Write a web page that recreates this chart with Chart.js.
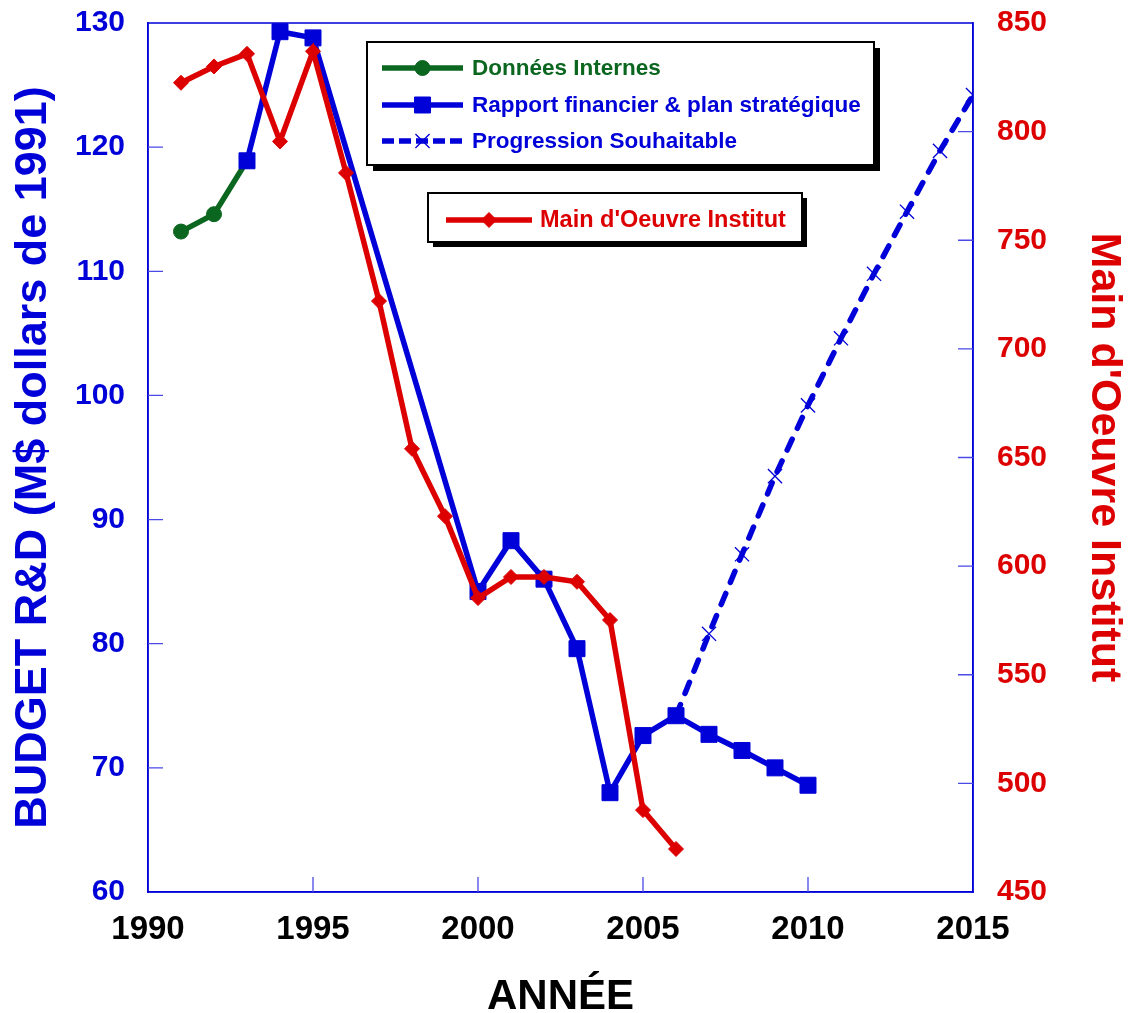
<!DOCTYPE html>
<html>
<head>
<meta charset="utf-8">
<script src="https://cdn.jsdelivr.net/npm/chart.js@4.4.1/dist/chart.umd.min.js"></script>
<style>
html, body { margin: 0; padding: 0; background: #fff; }
canvas { display: block; }
</style>
</head>
<body>
<canvas id="budgetChart" width="1130" height="1013"></canvas>
<script>
// data
var yearsInternes = [1991, 1992, 1993];
var budgetInternes = [113.2, 114.6, 118.9];

var yearsRapport = [1993, 1994, 1995, 2000, 2001, 2002, 2003, 2004, 2005, 2006, 2007, 2008, 2009, 2010];
var budgetRapport = [118.9, 129.3, 128.8, 84.2, 88.3, 85.2, 79.6, 68.0, 72.6, 74.2, 72.7, 71.4, 70.0, 68.6];

var yearsProgression = [2006, 2007, 2008, 2009, 2010, 2011, 2012, 2013, 2014, 2015];
var budgetProgression = [74.2, 80.8, 87.2, 93.5, 99.2, 104.6, 109.8, 114.8, 119.7, 124.2];

var yearsMain = [1991, 1992, 1993, 1994, 1995, 1996, 1997, 1998, 1999, 2000, 2001, 2002, 2003, 2004, 2005, 2006];
var mainOeuvre = [822.5, 830, 835.8, 795.5, 837, 781, 722, 654, 623, 585.3, 595, 595, 592.8, 575.2, 487.7, 469.8];

var BLUE = '#0000d8';
var RED = '#dd0000';
var GREEN = '#0b661f';
var FONT = '"Liberation Sans", Arial, sans-serif';

function pts(xs, ys) {
    var out = [];
    for (let i = 0; i < xs.length; i++) {
        out.push({ x: xs[i], y: ys[i] });
    }
    return out;
}

// fixed axis sizes so the plot area matches the figure
function fixWidth(w) {
    return function (s) {
        s.width = w;
        s.paddingTop = 0;
        s.paddingBottom = 0;
    };
}

Chart.defaults.font.family = FONT;

// frame + inward tick marks
var innerTicks = {
    id: 'innerTicks',
    beforeDatasetsDraw: function (chart) {
        var ctx = chart.ctx;
        var a = chart.chartArea;
        var s = chart.scales;
        ctx.save();
        ctx.strokeStyle = BLUE;
        ctx.lineWidth = 1.5;
        ctx.strokeRect(a.left, a.top, a.right - a.left, a.bottom - a.top);
        ctx.strokeStyle = '#4a4ae6';
        ctx.lineWidth = 1.3;
        ctx.beginPath();
        s.x.ticks.forEach(function (t) {
            var px = s.x.getPixelForValue(t.value);
            if (px <= a.left + 1 || px >= a.right - 1) return;
            ctx.moveTo(px, a.bottom);
            ctx.lineTo(px, a.bottom - 15);
        });
        s.y.ticks.forEach(function (t) {
            var py = s.y.getPixelForValue(t.value);
            if (py <= a.top + 1 || py >= a.bottom - 1) return;
            ctx.moveTo(a.left, py);
            ctx.lineTo(a.left + 15, py);
        });
        s.y2.ticks.forEach(function (t) {
            var py = s.y2.getPixelForValue(t.value);
            if (py <= a.top + 1 || py >= a.bottom - 1) return;
            ctx.moveTo(a.right, py);
            ctx.lineTo(a.right - 15, py);
        });
        ctx.stroke();
        ctx.restore();
    }
};

// boxed legends with drop shadow
function legendBox(ctx, x, y, w, h, sh) {
    ctx.fillStyle = '#000';
    ctx.fillRect(x + sh, y + sh, w, h);
    ctx.fillStyle = '#fff';
    ctx.fillRect(x, y, w, h);
    ctx.strokeStyle = '#000';
    ctx.lineWidth = 2;
    ctx.strokeRect(x, y, w, h);
}

function legendRow(ctx, ds, x0, x1, y, textX, size) {
    ctx.save();
    ctx.strokeStyle = ds.borderColor;
    ctx.lineWidth = ds.borderWidth;
    ctx.lineCap = 'butt';
    ctx.setLineDash(ds.borderDash ? [12, 5] : []);
    ctx.beginPath();
    ctx.moveTo(x0, y);
    ctx.lineTo(x1, y);
    ctx.stroke();
    ctx.setLineDash([]);
    ctx.fillStyle = ds.pointBackgroundColor;
    ctx.strokeStyle = ds.pointBorderColor;
    ctx.lineWidth = ds.pointBorderWidth;
    Chart.helpers.drawPoint(ctx, {
        pointStyle: ds.pointStyle,
        radius: ds.pointRadius,
        rotation: 0,
        borderWidth: ds.pointBorderWidth
    }, (x0 + x1) / 2, y);
    ctx.fillStyle = ds.legendColor;
    ctx.font = 'bold ' + size + 'px ' + FONT;
    ctx.textBaseline = 'middle';
    ctx.textAlign = 'left';
    ctx.fillText(ds.label, textX, y + 1);
    ctx.restore();
}

var boxedLegend = {
    id: 'boxedLegend',
    afterDraw: function (chart) {
        var ctx = chart.ctx;
        var d = chart.data.datasets;
        legendBox(ctx, 367, 42, 507, 123, 6);
        legendRow(ctx, d[3], 382, 463, 68, 472, 22.5);
        legendRow(ctx, d[1], 382, 463, 105, 472, 22.5);
        legendRow(ctx, d[2], 382, 463, 141, 472, 22.5);
        legendBox(ctx, 428, 193, 374, 49, 5);
        legendRow(ctx, d[0], 446, 532, 220, 540, 23.5);
    }
};

var ctx = document.getElementById('budgetChart');

var budgetChart = new Chart(ctx, {
    type: 'line',
    data: {
        datasets: [{
                label: "Main d'Oeuvre Institut",
                data: pts(yearsMain, mainOeuvre),
                yAxisID: 'y2',
                borderColor: RED,
                borderWidth: 5.5,
                pointStyle: 'rectRot',
                pointRadius: 7.5,
                pointBackgroundColor: RED,
                pointBorderColor: RED,
                pointBorderWidth: 1,
                legendColor: RED,
                order: 0
            },
            {
                label: 'Rapport financier & plan stratégique',
                data: pts(yearsRapport, budgetRapport),
                yAxisID: 'y',
                borderColor: BLUE,
                borderWidth: 5.5,
                pointStyle: 'rect',
                pointRadius: 11.3,
                pointBackgroundColor: BLUE,
                pointBorderColor: BLUE,
                pointBorderWidth: 1,
                legendColor: BLUE,
                order: 1
            },
            {
                label: 'Progression Souhaitable',
                data: pts(yearsProgression, budgetProgression),
                yAxisID: 'y',
                borderColor: BLUE,
                borderWidth: 5.5,
                borderDash: [12, 12],
                borderCapStyle: 'round',
                pointStyle: 'crossRot',
                pointRadius: 10,
                pointBackgroundColor: BLUE,
                pointBorderColor: BLUE,
                pointBorderWidth: 1.3,
                legendColor: BLUE,
                order: 2
            },
            {
                label: 'Données Internes',
                data: pts(yearsInternes, budgetInternes),
                yAxisID: 'y',
                borderColor: GREEN,
                borderWidth: 5.5,
                pointStyle: 'circle',
                pointRadius: 7.5,
                pointBackgroundColor: GREEN,
                pointBorderColor: GREEN,
                pointBorderWidth: 1,
                legendColor: GREEN,
                order: 3
            }
        ]
    },
    options: {
        responsive: false,
        animation: false,
        layout: { padding: { top: 23, left: 0, right: 0, bottom: 0 } },
        plugins: {
            legend: { display: false },
            tooltip: { enabled: false }
        },
        elements: { line: { tension: 0 } },
        scales: {
            x: {
                type: 'linear',
                min: 1990,
                max: 2015,
                ticks: {
                    stepSize: 5,
                    color: '#000',
                    padding: 18,
                    font: { size: 33, weight: 'bold' },
                    callback: function (v) { return String(v); }
                },
                grid: { drawOnChartArea: false, drawTicks: false },
                border: { color: BLUE, width: 1.5 },
                title: {
                    display: true,
                    text: 'ANNÉE',
                    color: '#000',
                    padding: 0,
                    font: { size: 42, weight: 'bold', lineHeight: 0.76 }
                },
                afterFit: function (s) {
                    s.height = 121;
                    s.paddingLeft = 0;
                    s.paddingRight = 0;
                }
            },
            y: {
                position: 'left',
                min: 60,
                max: 130,
                ticks: {
                    stepSize: 10,
                    color: BLUE,
                    padding: 23,
                    font: { size: 30, weight: 'bold' }
                },
                grid: { drawOnChartArea: false, drawTicks: false },
                border: { color: BLUE, width: 1.5 },
                title: {
                    display: true,
                    text: 'BUDGET R&D (M$ dollars de 1991)',
                    color: BLUE,
                    padding: { top: 11, bottom: 0 },
                    font: { size: 45, weight: 'bold', lineHeight: 1 }
                },
                afterFit: fixWidth(148)
            },
            y2: {
                position: 'right',
                min: 450,
                max: 850,
                ticks: {
                    stepSize: 50,
                    color: RED,
                    padding: 24,
                    font: { size: 30, weight: 'bold' }
                },
                grid: { drawOnChartArea: false, drawTicks: false },
                border: { color: BLUE, width: 1.5 },
                title: {
                    display: true,
                    text: "Main d'Oeuvre Institut",
                    color: RED,
                    padding: { top: 5, bottom: 0 },
                    font: { size: 43, weight: 'bold', lineHeight: 1 }
                },
                afterFit: fixWidth(157)
            }
        }
    },
    plugins: [innerTicks, boxedLegend]
});
</script>
</body>
</html>
